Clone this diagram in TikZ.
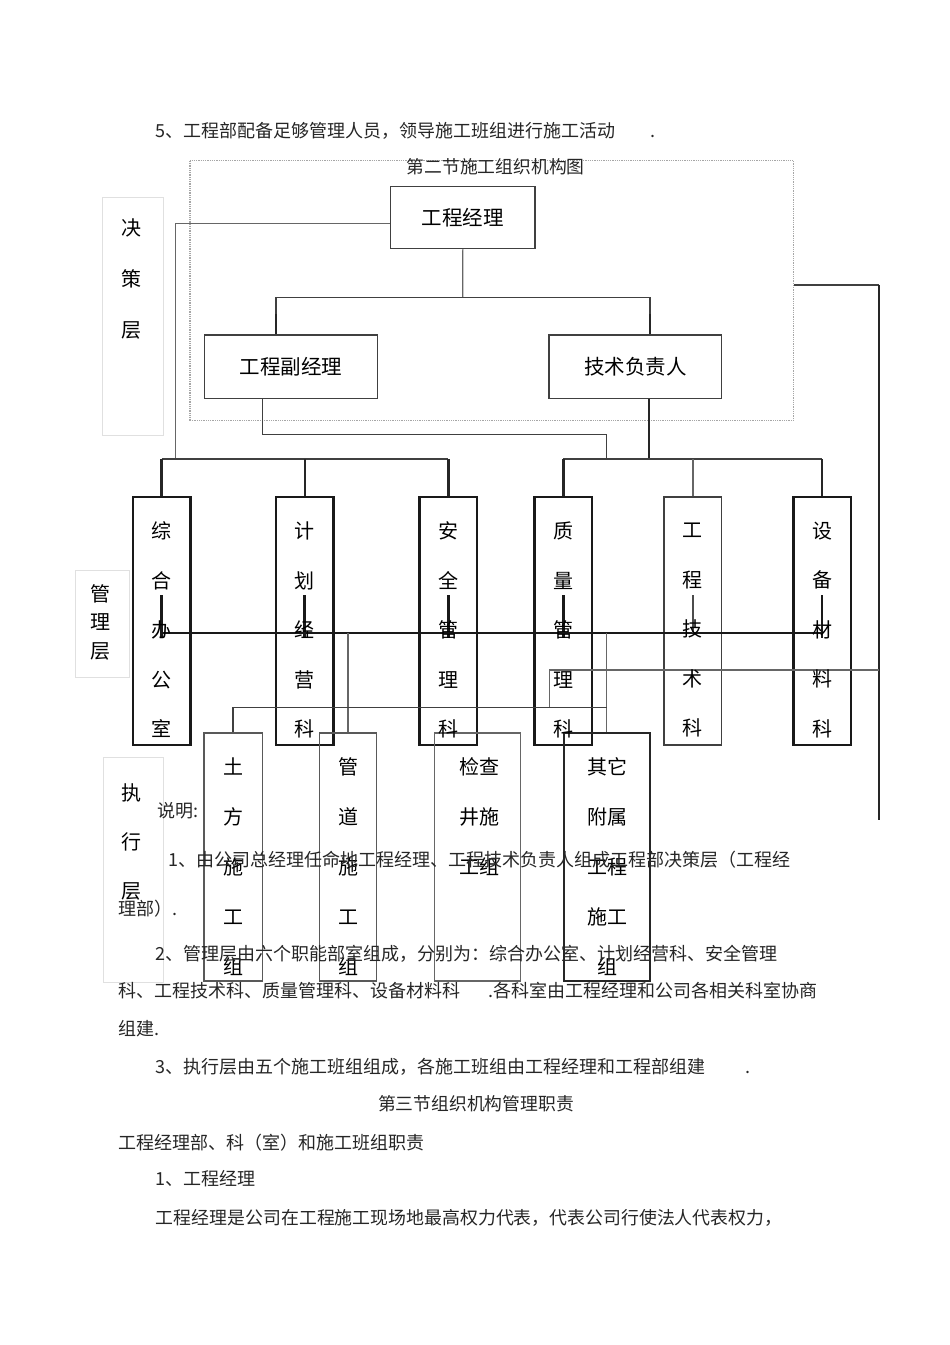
\documentclass[tikz,border=0pt]{standalone}
\usepackage{fontspec}
\setmainfont{Noto Sans CJK SC}
\begin{document}
\begin{tikzpicture}[x=1pt,y=-1pt,
  topbox/.style={draw=black!75, line width=1.5pt, inner sep=0, font=\fontsize{20.5pt}{24pt}\selectfont},
  mbox/.style={draw=black!90, line width=2.5pt, inner sep=0, minimum width=57.5pt, minimum height=248pt},
  lbox/.style={draw=black!75, line width=1.5pt, inner sep=0, minimum height=248pt},
  vtxt/.style={inner sep=0, align=center, font=\fontsize{20pt}{49.5pt}\selectfont},
  layer/.style={draw=black!12, line width=1pt, inner sep=0},
  body/.style={anchor=base west, inner sep=0, text=black!85, font=\fontsize{18pt}{22pt}\selectfont},
  frame/.style={draw=black!35, line width=1.3pt, dash pattern=on 1pt off 0.8pt, inner sep=0},
  thinc/.style={draw=black!60, line width=1.2pt},
  medc/.style={draw=black!75, line width=1.5pt},
  thickc/.style={draw=black!85, line width=2.2pt},
  stub/.style={draw=black!90, line width=2.5pt}
]
\fill[white] (0,0) rectangle (950,1345);
\useasboundingbox (0,0) rectangle (950,1345);

% layer label boxes
\node[layer, minimum width=60.4pt, minimum height=237.3pt] (L1) at (132.8,316.4) {};
\node[layer, minimum width=54pt, minimum height=107pt] (L2) at (102,623.5) {};
\node[layer, minimum width=60.6pt, minimum height=225pt] (L3) at (133.3,869.5) {};
\node[vtxt, font=\fontsize{20pt}{51pt}\selectfont] (L1t) at (131,279) {决\\策\\层};
\node[vtxt, font=\fontsize{20pt}{28.5pt}\selectfont] (L2t) at (100.5,622) {管\\理\\层};
\node[vtxt, font=\fontsize{20pt}{49pt}\selectfont] (L3t) at (131.5,842) {执\\行\\层};

% dotted frame
\node[frame, minimum width=603.3pt, minimum height=260pt] (fr) at (491.7,290.7) {};

% top boxes
\node[topbox, minimum width=144.3pt, minimum height=61.6pt] (gm) at (462.85,217.5) {工程经理};
\node[topbox, minimum width=173pt, minimum height=63.3pt] (dep) at (290.8,366.7) {工程副经理};
\node[topbox, minimum width=172.7pt, minimum height=63.3pt] (tech) at (635.3,366.7) {技术负责人};

% management boxes
\node[mbox] (b1) at (161.5,621) {};
\node[mbox] (b2) at (304.7,621) {};
\node[mbox] (b3) at (448.4,621) {};
\node[mbox] (b4) at (563.4,621) {};
\node[mbox, draw=black!75, line width=1.5pt] (b5) at (692.9,621) {};
\node[mbox] (b6) at (822,621) {};

% lower boxes
\node[lbox, minimum width=58.3pt, draw=black!65] (c1) at (233.2,857) {};
\node[lbox, minimum width=57.4pt, draw=black!65] (c2) at (348,857) {};
\node[lbox, minimum width=86.4pt, draw=black!60] (c3) at (477.5,857) {};
\node[lbox, minimum width=86.5pt, draw=black!85, line width=2pt] (c4) at (606.8,857) {};

% connectors: top
\coordinate (jTop) at (462.7,297.7);
\draw[thinc] (gm.south) -- (jTop);
\draw[medc] (dep.north -| 276,0) |- (jTop);
\draw[medc] (jTop) -| (tech.north -| 650,0);
\draw[thickc] (dep.north -| 276,0) -- ++(0,-20);
\draw[thickc] (tech.north -| 650,0) -- ++(0,-20);

% left branch
\coordinate (jL) at (175.7,459);
\draw[thinc] ([yshift=-5.8pt]gm.west) -| (jL);
\draw[medc] (b1.north |- jL) -- (b3.north |- jL);
\draw[thickc] (b1.north) -- (b1.north |- jL);
\draw[thickc] (b2.north) -- (b2.north |- jL);
\draw[thickc] (b3.north) -- (b3.north |- jL);

% right branch
\coordinate (jR) at (606.7,459);
\draw[medc] ([xshift=-28.5pt]dep.south) |- (606.7,434.5) -- (jR);
\draw[thickc] ([xshift=14pt]tech.south) -- ([xshift=14pt]tech.south |- jR);
\draw[medc] (b4.north |- jR) -- (b6.north |- jR);
\draw[thickc] (b4.north) -- (b4.north |- jR);
\draw[thinc] (b5.north) -- (b5.north |- jR);
\draw[thickc] (b6.north) -- (b6.north |- jR);

% right long line
\coordinate (rEnd) at (879,820);
\draw[medc] ([yshift=5.7pt]fr.east) -- (879,285);
\draw[thickc] (879,285) -- (rEnd);

% middle horizontal and stubs
\draw[draw=black!90, line width=1.5pt] (b1.center |- 0,633) -- (b6.center |- 0,633);
\foreach \b in {b1,b2,b3,b4,b6}{
  \draw[stub] (\b.center |- 0,595) -- (\b.center |- 0,638);
}
\draw[draw=black!70, line width=1.2pt] (b5.center |- 0,595) -- (b5.center |- 0,633);

% lower connectors
\draw[thinc] (c2.north |- 0,633) -- (c2.north);
\draw[thinc] (c4.north |- 0,633) -- (c4.north);
\draw[thinc] (879,670) -- (549.3,670) -- (549.3,707.3);
\draw[medc] (c1.north) |- (c4.north |- 0,707.3);

% box texts
\node[vtxt] (t1) at (161.5,630) {综\\合\\办\\公\\室};
\node[vtxt] (t2) at (304.7,630) {计\\划\\经\\营\\科};
\node[vtxt] (t3) at (448.4,630) {安\\全\\管\\理\\科};
\node[vtxt] (t4) at (563.4,630) {质\\量\\管\\理\\科};
\node[vtxt] (t5) at (692.9,630) {工\\程\\技\\术\\科};
\node[vtxt] (t6) at (822,630) {设\\备\\材\\料\\科};
\node[vtxt, font=\fontsize{20pt}{50pt}\selectfont] (u1) at (233.2,867) {土\\方\\施\\工\\组};
\node[vtxt, font=\fontsize{20pt}{50pt}\selectfont] (u2) at (348,867) {管\\道\\施\\工\\组};
\node[vtxt, font=\fontsize{20pt}{50pt}\selectfont] (u3) at (479,817) {检查\\井施\\工组};
\node[vtxt, font=\fontsize{20pt}{50pt}\selectfont] (u4) at (607,867) {其它\\附属\\工程\\施工\\组};

% body text
\node[body] (tA) at (155.7,137) {5、工程部配备足够管理人员，领导施工班组进行施工活动\hspace{35pt}.};
\node[body, anchor=base, font=\fontsize{17.8pt}{22pt}\selectfont] (tB) at (495.6,173.5) {第二节施工组织机构图};
\node[body] (tC) at (157,817) {说明:};
\node[body] (tD) at (168,866) {1、由公司总经理任命地工程经理、工程技术负责人组成工程部决策层（工程经};
\node[body] (tE) at (118,915) {理部）.};
\node[body] (tF) at (155.6,960) {2、管理层由六个职能部室组成，分别为：综合办公室、计划经营科、安全管理};
\node[body] (tG) at (118,997) {科、工程技术科、质量管理科、设备材料科\hspace{28pt}.各科室由工程经理和公司各相关科室协商};
\node[body] (tH) at (118,1035) {组建.};
\node[body] (tI) at (155.7,1073) {3、执行层由五个施工班组组成，各施工班组由工程经理和工程部组建\hspace{40pt}.};
\node[body, anchor=base, font=\fontsize{17.8pt}{22pt}\selectfont] (tJ) at (476,1110) {第三节组织机构管理职责};
\node[body] (tK) at (118,1149) {工程经理部、科（室）和施工班组职责};
\node[body] (tL) at (155.7,1185) {1、工程经理};
\node[body, font=\fontsize{17.9pt}{22pt}\selectfont] (tM) at (155.7,1224) {工程经理是公司在工程施工现场地最高权力代表，代表公司行使法人代表权力，};
\end{tikzpicture}
\end{document}
